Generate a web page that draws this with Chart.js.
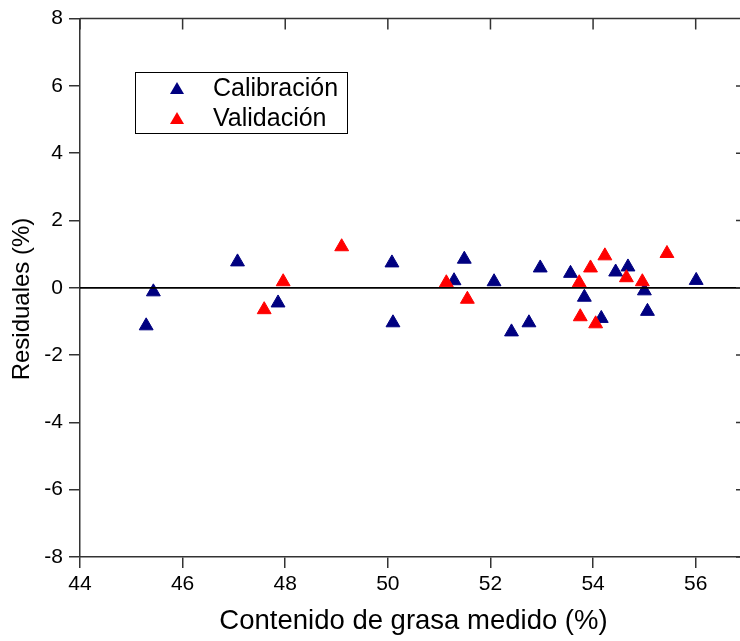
<!DOCTYPE html>
<html><head><meta charset="utf-8">
<script src="https://cdn.jsdelivr.net/npm/chart.js@4.4.1/dist/chart.umd.min.js"></script>
<style>
html,body{margin:0;padding:0;overflow:hidden;background:#fff;width:740px;height:641px}
#wrap{position:absolute;left:0;top:0;width:760px;height:641px}
</style></head>
<body><div id="wrap"><canvas id="c" width="760" height="641"></canvas></div>
<script>
// ---- data ----
const xTicks = [44, 46, 48, 50, 52, 54, 56];
const yTicks = [-8, -6, -4, -2, 0, 2, 4, 6, 8];
const calX = [45.43, 45.29, 47.07, 47.86, 50.08, 51.49, 51.29, 50.10, 52.07, 52.97, 53.56, 53.83, 52.41, 52.75, 54.16, 54.44, 54.68, 55.00, 55.06, 56.01];
const calY = [-0.12, -1.13, 0.77, -0.45, 0.74, 0.85, 0.21, -1.04, 0.18, 0.59, 0.43, -0.28, -1.31, -1.04, -0.91, 0.47, 0.62, -0.09, -0.70, 0.22];
const valX = [47.96, 47.59, 49.10, 51.14, 51.55, 53.95, 53.73, 53.75, 54.05, 54.23, 55.44, 54.65, 54.96];
const valY = [0.18, -0.65, 1.22, 0.15, -0.34, 0.59, 0.15, -0.86, -1.07, 0.95, 1.02, 0.30, 0.18];
const zeroX = [44, 57];
const zeroY = [0, 0];
const seriesNames = ['Calibración', 'Validación'];
const xTitle = 'Contenido de grasa medido (%)';
const yTitle = 'Residuales (%)';

const BLUE = '#000080', RED = '#ff0000', AX = '#333333';
const FONT = "'Liberation Sans', Arial, sans-serif";
const pts = (xs, ys) => xs.map((x, i) => ({x: x, y: ys[i]}));

const framePlugin = {
  id: 'frame',
  afterDraw(chart) {
    const {ctx, chartArea: a, scales} = chart;
    ctx.save();
    ctx.strokeStyle = AX; ctx.lineWidth = 1.5;
    ctx.beginPath();
    ctx.moveTo(a.left, a.top); ctx.lineTo(a.right, a.top);
    ctx.moveTo(a.right, a.top); ctx.lineTo(a.right, a.bottom);
    xTicks.forEach(v => { const px = scales.x.getPixelForValue(v); ctx.moveTo(px, a.top); ctx.lineTo(px, a.top + 11); });
    yTicks.forEach(v => { const py = scales.y.getPixelForValue(v); ctx.moveTo(a.right - 11, py); ctx.lineTo(a.right, py); });
    ctx.stroke();
    // y title
    ctx.fillStyle = '#000';
    ctx.font = '24px ' + FONT;
    ctx.textAlign = 'center'; ctx.textBaseline = 'middle';
    ctx.translate(22, 299); ctx.rotate(-Math.PI / 2);
    ctx.fillText(yTitle, 0, 0);
    ctx.restore();
    // legend
    ctx.save();
    ctx.strokeStyle = '#000'; ctx.lineWidth = 1;
    ctx.strokeRect(135.5, 72.5, 212, 61);
    const rows = [[BLUE, seriesNames[0], 89], [RED, seriesNames[1], 119]];
    ctx.font = '25px ' + FONT; ctx.textAlign = 'left'; ctx.textBaseline = 'middle';
    rows.forEach(([c, t, y]) => {
      ctx.fillStyle = c;
      ctx.beginPath();
      ctx.moveTo(177, y - 7); ctx.lineTo(184, y + 5); ctx.lineTo(170, y + 5); ctx.closePath();
      ctx.fill();
      ctx.fillStyle = '#000';
      ctx.fillText(t, 213, y);
    });
    ctx.restore();
  }
};

new Chart(document.getElementById('c'), {
  data: {
    datasets: [
      {type: 'line', label: 'zero', data: pts(zeroX, zeroY), borderColor: '#000', borderWidth: 1.8, pointRadius: 0, order: 0},
      {type: 'scatter', label: seriesNames[1], data: pts(valX, valY), pointStyle: 'triangle', pointRadius: 8, backgroundColor: RED, borderColor: RED, borderWidth: 1, order: 1},
      {type: 'scatter', label: seriesNames[0], data: pts(calX, calY), pointStyle: 'triangle', pointRadius: 8, backgroundColor: BLUE, borderColor: BLUE, borderWidth: 1, order: 2}
    ]
  },
  options: {
    responsive: false, animation: false, devicePixelRatio: 1,
    layout: {padding: {top: 18, left: 0, right: 13, bottom: 0}},
    plugins: {legend: {display: false}, tooltip: {enabled: false}},
    scales: {
      x: {
        type: 'linear', position: 'bottom', min: 44, max: 57,
        afterBuildTicks: s => { s.ticks = xTicks.map(v => ({value: v})); },
        afterFit: s => { s.height = 84; },
        ticks: {color: '#000', font: {family: FONT, size: 21}, padding: 4, maxRotation: 0, autoSkip: false},
        grid: {drawOnChartArea: false, drawTicks: true, tickLength: 11, color: AX, lineWidth: 1.5},
        border: {display: true, color: AX, width: 1.5},
        title: {display: true, text: xTitle, color: '#000', font: {family: FONT, size: 27.5}, padding: {top: 0, bottom: 3}}
      },
      y: {
        type: 'linear', position: 'left', min: -8, max: 8,
        afterBuildTicks: s => { s.ticks = yTicks.map(v => ({value: v})); },
        afterFit: s => { s.width = 80; },
        ticks: {color: '#000', font: {family: FONT, size: 21}, padding: 6},
        grid: {drawOnChartArea: false, drawTicks: true, tickLength: 11, color: AX, lineWidth: 1.5},
        border: {display: true, color: AX, width: 1.5}
      }
    }
  },
  plugins: [framePlugin]
});
</script>
</body></html>
